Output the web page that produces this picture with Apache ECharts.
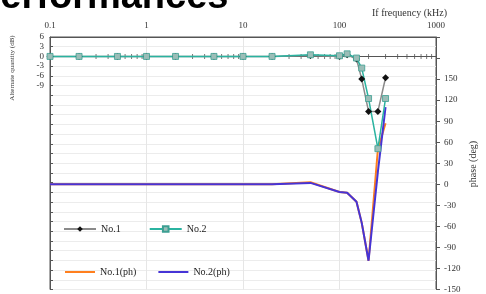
<!DOCTYPE html>
<html>
<head>
<meta charset="utf-8">
<script src="https://cdn.jsdelivr.net/npm/echarts@6/dist/echarts.min.js"></script>
<style>
  html, body { margin: 0; padding: 0; background: #fff; }
  #chart { width: 486px; height: 294px; }
</style>
</head>
<body>
<div id="chart"></div>
<script>
// frequency points (kHz)
var freq = [0.1, 0.2, 0.5, 1, 2, 5, 10, 20, 50, 100, 120, 150, 170, 200, 250, 300];
// amplitude (dB)
var ampNo1 = [0, 0, 0, 0, 0, 0, 0, 0, 0.3, 0, 0.5, -0.8, -7, -17, -17, -6.6];
var ampNo2 = [0, 0, 0, 0, 0, 0, 0, 0, 0.5, 0.2, 0.8, -0.5, -3.6, -13, -28.5, -13];
// phase (deg)
var phNo1 = [0, 0, 0, 0, 0, 0, 0, 0, 3, -11, -12, -25, -55, -109, 50, 87];
var phNo2 = [0, 0, 0, 0, 0, 0, 0, 0, 2, -11, -12, -25, -55, -109, 18, 110];
// minor ticks on the 0 dB line
var logTicks = [0.2, 0.3, 0.4, 0.5, 0.6, 0.7, 0.8, 0.9, 1, 2, 3, 4, 5, 6, 7, 8, 9, 10,
    20, 30, 40, 50, 60, 70, 80, 90, 100, 200, 300, 400, 500, 600, 700, 800, 900];

function pairs(xs, ys) {
    return xs.map(function (x, i) { return [x, ys[i]]; });
}

var serif = 'Liberation Serif';
var chart = echarts.init(document.getElementById('chart'));

var option = {
    animation: false,
    grid: {
        left: 50, right: 50, top: 37, bottom: 2,
        show: true, borderColor: '#555', borderWidth: 1
    },
    graphic: [
        {
            type: 'text', left: -25, top: -21,
            style: { text: 'Performances', font: 'bold 38px "Liberation Sans"', fill: '#000' }
        },
        {
            type: 'text', left: 372, top: 8,
            style: { text: 'If frequency (kHz)', font: '10px "Liberation Serif"', fill: '#333' }
        },
        {
            type: 'text', x: 12, y: 68, rotation: Math.PI / 2,
            style: { text: 'Alternate quantity (dB)', font: '7px "Liberation Serif"', fill: '#333',
                align: 'center', verticalAlign: 'middle' }
        },
        {
            type: 'text', x: 473, y: 164, rotation: Math.PI / 2,
            style: { text: 'phase (deg)', font: '10px "Liberation Serif"', fill: '#333',
                align: 'center', verticalAlign: 'middle' }
        }
    ],
    legend: [
        {
            left: 58, top: 219, itemGap: 28, itemWidth: 32, itemHeight: 7,
            data: ['No.1', 'No.2'],
            textStyle: { fontFamily: serif, fontSize: 10, color: '#222' }
        },
        {
            left: 60, top: 262, itemGap: 22, itemWidth: 30, itemHeight: 2,
            icon: 'rect',
            data: ['No.1(ph)', 'No.2(ph)'],
            textStyle: { fontFamily: serif, fontSize: 10, color: '#222' }
        }
    ],
    xAxis: [
        {
            type: 'log', logBase: 10, min: 0.1, max: 1000, position: 'top',
            axisLine: { onZero: false, lineStyle: { color: '#555' } },
            axisTick: { show: false },
            axisLabel: {
                fontFamily: serif, fontSize: 9, color: '#333', margin: 7,
                formatter: function (v) { return String(+v.toPrecision(3)); }
            },
            splitLine: { show: true, lineStyle: { color: '#e6e6e6' } }
        },
        {
            type: 'log', logBase: 10, min: 0.1, max: 1000, position: 'bottom',
            axisLine: { onZero: true, onZeroAxisIndex: 0, lineStyle: { color: '#555' } },
            axisTick: { show: false },
            axisLabel: { show: false },
            splitLine: { show: false }
        }
    ],
    yAxis: [
        {
            type: 'value', min: -72, max: 6, interval: 3,
            axisLine: { show: true, lineStyle: { color: '#555' } },
            axisTick: { show: true, inside: true, length: 3, lineStyle: { color: '#555' } },
            axisLabel: {
                fontFamily: serif, fontSize: 9, color: '#333', margin: 6,
                formatter: function (v) { return v >= -9 ? String(v) : ''; }
            },
            splitLine: { show: true, lineStyle: { color: '#ececec' } }
        },
        {
            type: 'value', min: -150, max: 210, interval: 30, position: 'right',
            axisLine: { show: true, lineStyle: { color: '#555' } },
            axisTick: { show: true, length: 4, lineStyle: { color: '#555' } },
            axisLabel: {
                fontFamily: serif, fontSize: 9, color: '#333', margin: 8,
                formatter: function (v) { return v <= 150 ? String(v) : ''; }
            },
            splitLine: { show: false }
        }
    ],
    series: [
        {
            name: 'ticks', type: 'scatter', silent: true, z: 1,
            symbol: 'rect', symbolSize: [1, 5],
            itemStyle: { color: '#555' },
            data: logTicks.map(function (f) { return [f, 0]; })
        },
        {
            name: 'No.1(ph)', type: 'line', yAxisIndex: 1,
            symbol: 'none',
            lineStyle: { color: '#ff7f1e', width: 2 },
            itemStyle: { color: '#ff7f1e' },
            data: pairs(freq, phNo1)
        },
        {
            name: 'No.2(ph)', type: 'line', yAxisIndex: 1,
            symbol: 'none',
            lineStyle: { color: '#4634d6', width: 2 },
            itemStyle: { color: '#4634d6' },
            data: pairs(freq, phNo2)
        },
        {
            name: 'No.1', type: 'line', yAxisIndex: 0,
            symbol: 'diamond', symbolSize: 7,
            lineStyle: { color: '#8a8a8a', width: 1.5 },
            itemStyle: { color: '#111' },
            data: pairs(freq, ampNo1)
        },
        {
            name: 'No.2', type: 'line', yAxisIndex: 0,
            symbol: 'rect', symbolSize: 6,
            lineStyle: { color: '#2ab3a0', width: 1.5 },
            itemStyle: { color: '#9bbdb7', borderColor: '#3c9f92', borderWidth: 0.8 },
            data: pairs(freq, ampNo2)
        }
    ]
};

chart.setOption(option);
</script>
</body>
</html>
